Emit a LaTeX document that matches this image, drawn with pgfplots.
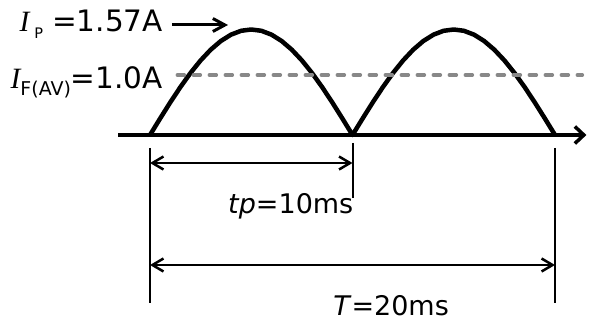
\documentclass[border=0pt]{standalone}
\usepackage{pgfplots}
\pgfplotsset{compat=1.18}
\usepackage{fontspec}
\setmainfont{DejaVu Sans}
\newfontfamily\tnr{Liberation Serif}
\usetikzlibrary{arrows.meta}
\definecolor{dashgray}{RGB}{136,136,136}
\begin{document}
\begin{tikzpicture}
\begin{axis}[
  width=590pt, height=322pt, scale only axis,
  xmin=-7.4074, xmax=21.7284, ymin=-2.7827, ymax=2.0089,
  hide axis, clip=false,
]
\path (rel axis cs:0,0) rectangle (rel axis cs:1,1);
% half-sine current pulses (ms, A)
\addplot[black, line width=4.5pt, line join=round] coordinates {
(0,0) (0.5,0.2456) (1,0.4851) (1.5,0.7128) (2,0.9228) (2.5,1.1101) (3,1.2701) (3.5,1.3989) (4,1.4932) (4.5,1.5507) (5,1.57)
(5.5,1.5507) (6,1.4932) (6.5,1.3989) (7,1.2701) (7.5,1.1101) (8,0.9228) (8.5,0.7128) (9,0.4851) (9.5,0.2456) (10,0)
(10.5,0.2456) (11,0.4851) (11.5,0.7128) (12,0.9228) (12.5,1.1101) (13,1.2701) (13.5,1.3989) (14,1.4932) (14.5,1.5507) (15,1.57)
(15.5,1.5507) (16,1.4932) (16.5,1.3989) (17,1.2701) (17.5,1.1101) (18,0.9228) (18.5,0.7128) (19,0.4851) (19.5,0.2456) (20,0)
};
% average level
\addplot[dashgray, line width=3.5pt, line cap=round, dash pattern=on 7pt off 9pt] coordinates {(1.35,0.893) (21.35,0.893)};
% time axis
\draw[line width=4pt, -{Straight Barb[length=9pt,width=17pt,line width=3.5pt]}] (axis cs:-1.58,0) -- (axis cs:21.55,0);
% vertical extension lines
\draw[line width=2pt] (axis cs:0,-0.193) -- (axis cs:0,-2.5);
\draw[line width=2pt] (axis cs:10,-0.119) -- (axis cs:10,-0.9375);
\draw[line width=2pt] (axis cs:20,-0.193) -- (axis cs:20,-2.5);
% dimension arrows
\draw[line width=2.5pt, {Straight Barb[length=11pt,width=13pt,line width=2.5pt]}-{Straight Barb[length=11pt,width=13pt,line width=2.5pt]}] (axis cs:0,-0.4167) -- (axis cs:10,-0.4167);
\draw[line width=2.5pt, {Straight Barb[length=11pt,width=13pt,line width=2.5pt]}-{Straight Barb[length=11pt,width=13pt,line width=2.5pt]}] (axis cs:0,-1.9345) -- (axis cs:20,-1.9345);
% peak arrow
\draw[line width=3pt, -{Straight Barb[length=12pt,width=13pt,line width=3pt]}] (axis cs:1.086,1.637) -- (axis cs:3.852,1.637);
% labels
\node[anchor=base east, inner sep=0pt, font=\fontsize{29.5}{29.5}\selectfont] at (axis cs:0.642,1.537)
  {{\tnr\itshape I}\hspace{5pt}\raisebox{-6.5pt}{\fontsize{14.5}{14.5}\selectfont P}\hspace{9pt}=1.57A};
\node[anchor=base east, inner sep=0pt, font=\fontsize{29.5}{29.5}\selectfont] at (axis cs:0.642,0.699)
  {{\tnr\itshape I}\raisebox{-7pt}{\fontsize{19}{19}\selectfont F(AV)}=1.0A};
\node[anchor=base east, inner sep=0pt, font=\fontsize{27}{27}\selectfont] at (axis cs:10.05,-1.161)
  {\textit{tp}=10ms};
\node[anchor=base west, inner sep=0pt, font=\fontsize{27}{27}\selectfont] at (axis cs:9.04,-2.679)
  {\textit{T}=20ms};
\end{axis}
\end{tikzpicture}
\end{document}
